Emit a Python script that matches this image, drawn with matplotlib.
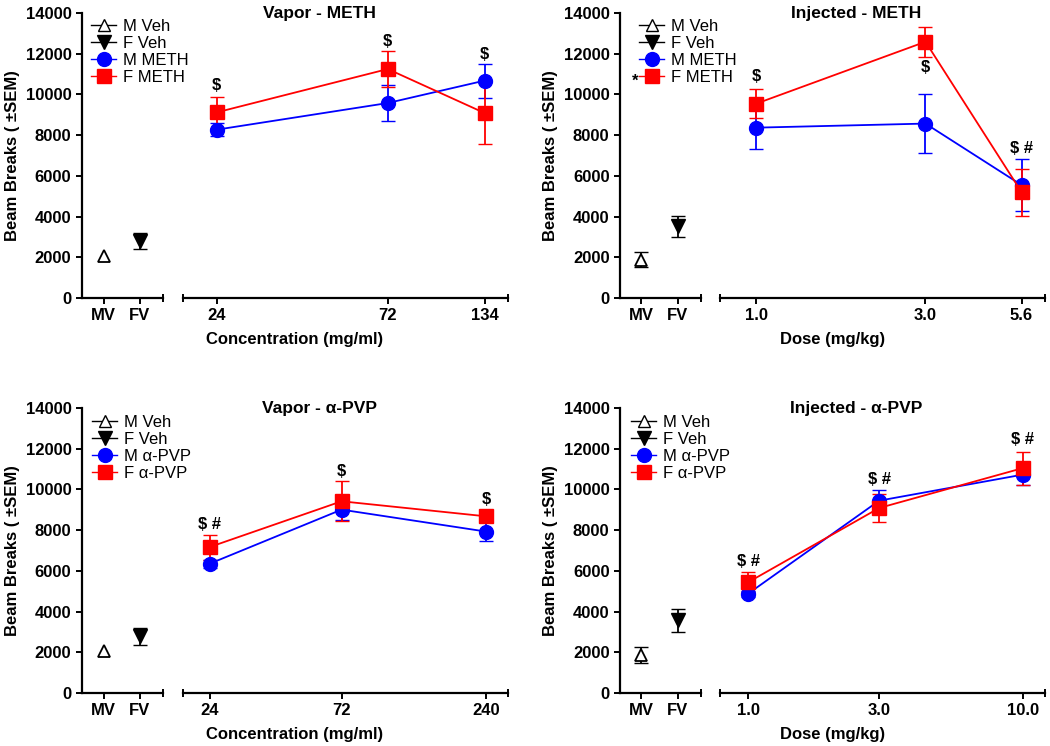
import matplotlib.pyplot as plt
from matplotlib.lines import Line2D
from matplotlib.ticker import FixedLocator, NullFormatter, NullLocator

plt.rcParams["font.family"] = ["Liberation Sans", "DejaVu Sans"]

veh_labels = ["MV", "FV"]
y_ticks = [0, 2000, 4000, 6000, 8000, 10000, 12000, 14000]

# Vapor - METH (MV error bar hidden behind its marker -> 0)
vm_dose = [24, 72, 134]
vm_dose_labels = ["24", "72", "134"]
vm_veh_mean = [2050, 2800]
vm_veh_sem = [0, 410]
vm_m_mean = [8270, 9580, 10680]
vm_m_sem = [330, 870, 830]
vm_f_mean = [9120, 11250, 9090]
vm_f_sem = [750, 900, 1500]
vm_marks = ["$", "$", "$"]
vm_mark_y = [10430, 12610, 11950]

# Injected - METH
im_dose = [1.0, 3.0, 5.6]
im_dose_labels = ["1.0", "3.0", "5.6"]
im_veh_mean = [1890, 3530]
im_veh_sem = [380, 520]
im_m_mean = [8370, 8570, 5550]
im_m_sem = [1070, 1430, 1290]
im_f_mean = [9550, 12590, 5200]
im_f_sem = [730, 740, 1160]
im_marks = ["$", "$", "$ #"]
im_mark_y = [10880, 11320, 7350]

# Vapor - a-PVP
vp_dose = [24, 72, 240]
vp_dose_labels = ["24", "72", "240"]
vp_veh_mean = [2050, 2780]
vp_veh_sem = [0, 410]
vp_m_mean = [6350, 9010, 7930]
vp_m_sem = [200, 500, 480]
vp_f_mean = [7170, 9420, 8680]
vp_f_sem = [610, 980, 200]
vp_marks = ["$ #", "$", "$"]
vp_mark_y = [8270, 10890, 9530]

# Injected - a-PVP
ip_dose = [1.0, 3.0, 10.0]
ip_dose_labels = ["1.0", "3.0", "10.0"]
ip_veh_mean = [1880, 3570]
ip_veh_sem = [400, 550]
ip_m_mean = [4880, 9450, 10730]
ip_m_sem = [150, 540, 500]
ip_f_mean = [5440, 9090, 11050]
ip_f_sem = [500, 710, 810]
ip_marks = ["$ #", "$ #", "$ #"]
ip_mark_y = [6470, 10480, 12440]

BLUE = "#0000ff"
RED = "#ff0000"
FS = 12


def style_axis(ax):
    for s in ["top", "right"]:
        ax.spines[s].set_visible(False)
    ax.spines["left"].set_linewidth(1.6)
    ax.spines["bottom"].set_linewidth(1.6)
    ax.tick_params(which="major", direction="out", length=4, width=1.4,
                   labelsize=FS)
    ax.tick_params(which="minor", direction="inout", length=6, width=1.4)
    ax.set_facecolor("none")


def draw_panel(x0, x1, yb, left_lim, right_lim, dose, dose_labels,
               veh_mean, veh_sem, m_mean, m_sem, f_mean, f_sem,
               marks, mark_y, drug, title, xlabel, leg_xy, star=None):
    w_left = 0.077
    h = 0.382
    axl = fig.add_axes([x0, yb, w_left, h])
    axr = fig.add_axes([x1, yb, 0.310, h])

    # vehicle groups (bars under the markers, skipped when not visible)
    for i in range(2):
        if veh_sem[i] > 0:
            axl.errorbar([i], [veh_mean[i]], yerr=[veh_sem[i]], fmt="none",
                         ecolor="k", capsize=5, elinewidth=1.3, zorder=1)
    axl.plot([0], [veh_mean[0]], "^", mfc="white", mec="k", ms=9, mew=1.3,
             zorder=3)
    axl.plot([1], [veh_mean[1]], "v", color="k", ms=10, zorder=3)
    axl.set_xlim(left_lim)
    axl.set_ylim(0, 14000)
    axl.set_xticks([0, 1])
    axl.set_xticklabels(veh_labels, fontweight="bold")
    axl.set_yticks(y_ticks)
    axl.set_yticklabels([str(v) for v in y_ticks], fontweight="bold")
    axl.xaxis.set_minor_locator(FixedLocator([left_lim[1]]))
    style_axis(axl)
    axl.set_ylabel("Beam Breaks ( \u00b1SEM)", fontsize=FS, fontweight="bold",
                   labelpad=4)

    # drug groups
    axr.errorbar(dose, m_mean, yerr=m_sem, fmt="-o", color=BLUE, ms=10,
                 lw=1.3, capsize=5, elinewidth=1.3)
    axr.errorbar(dose, f_mean, yerr=f_sem, fmt="-s", color=RED, ms=10,
                 lw=1.3, capsize=5, elinewidth=1.3)
    axr.set_xscale("log")
    axr.set_xlim(right_lim)
    axr.set_ylim(0, 14000)
    axr.xaxis.set_major_locator(FixedLocator(dose))
    axr.set_xticklabels(dose_labels, fontweight="bold")
    axr.xaxis.set_minor_locator(FixedLocator(list(right_lim)))
    axr.xaxis.set_minor_formatter(NullFormatter())
    axr.spines["left"].set_visible(False)
    axr.yaxis.set_major_locator(NullLocator())
    style_axis(axr)
    for d, txt, yy in zip(dose, marks, mark_y):
        axr.text(d, yy, txt, ha="center", va="center", fontsize=FS,
                 fontweight="bold")

    # titles
    pl = axl.get_position()
    pr = axr.get_position()
    fig.text((pr.x0 + pr.x1) / 2 - 0.025, pl.y1 - 0.001, title, ha="center",
             va="center", fontsize=FS + 0.5, fontweight="bold")
    fig.text((pl.x0 + pr.x1) / 2, pl.y0 - 0.056, xlabel, ha="center",
             va="center", fontsize=FS, fontweight="bold")

    handles = [
        Line2D([], [], color="k", marker="^", mfc="white", ms=9, lw=1),
        Line2D([], [], color="k", marker="v", ms=10, lw=1),
        Line2D([], [], color=BLUE, marker="o", ms=10, lw=1),
        Line2D([], [], color=RED, marker="s", ms=10, lw=1),
    ]
    labels = ["M Veh", "F Veh", "M " + drug, "F " + drug]
    axl.legend(handles, labels, loc="upper left", bbox_to_anchor=leg_xy,
               bbox_transform=fig.transFigure, frameon=False, fontsize=FS,
               handlelength=1.5, handletextpad=0.4, labelspacing=0.12,
               borderaxespad=0, borderpad=0)
    if star:
        fig.text(star[0], star[1], "*", ha="center", va="center",
                 fontsize=FS, fontweight="bold")


fig = plt.figure(figsize=(10.5, 7.46), dpi=100)

draw_panel(0.078, 0.174, 0.6005, (-0.6, 1.63), (19.3, 156), vm_dose,
           vm_dose_labels, vm_veh_mean, vm_veh_sem, vm_m_mean, vm_m_sem,
           vm_f_mean, vm_f_sem, vm_marks, vm_mark_y, "METH",
           "Vapor - METH", "Concentration (mg/ml)", (0.087, 0.975))
draw_panel(0.5905, 0.6857, 0.6005, (-0.57, 1.62), (0.79, 6.54), im_dose,
           im_dose_labels, im_veh_mean, im_veh_sem, im_m_mean, im_m_sem,
           im_f_mean, im_f_sem, im_marks, im_mark_y, "METH",
           "Injected - METH", "Dose (mg/kg)", (0.609, 0.975),
           star=(0.605, 0.891))
draw_panel(0.078, 0.174, 0.071, (-0.6, 1.63), (19.2, 288), vp_dose,
           vp_dose_labels, vp_veh_mean, vp_veh_sem, vp_m_mean, vp_m_sem,
           vp_f_mean, vp_f_sem, vp_marks, vp_mark_y, "\u03b1-PVP",
           "Vapor - \u03b1-PVP", "Concentration (mg/ml)", (0.088, 0.444))
draw_panel(0.5905, 0.6857, 0.071, (-0.57, 1.62), (0.79, 12.1), ip_dose,
           ip_dose_labels, ip_veh_mean, ip_veh_sem, ip_m_mean, ip_m_sem,
           ip_f_mean, ip_f_sem, ip_marks, ip_mark_y, "\u03b1-PVP",
           "Injected - \u03b1-PVP", "Dose (mg/kg)", (0.601, 0.444))

fig.savefig("out.png", dpi=100)
